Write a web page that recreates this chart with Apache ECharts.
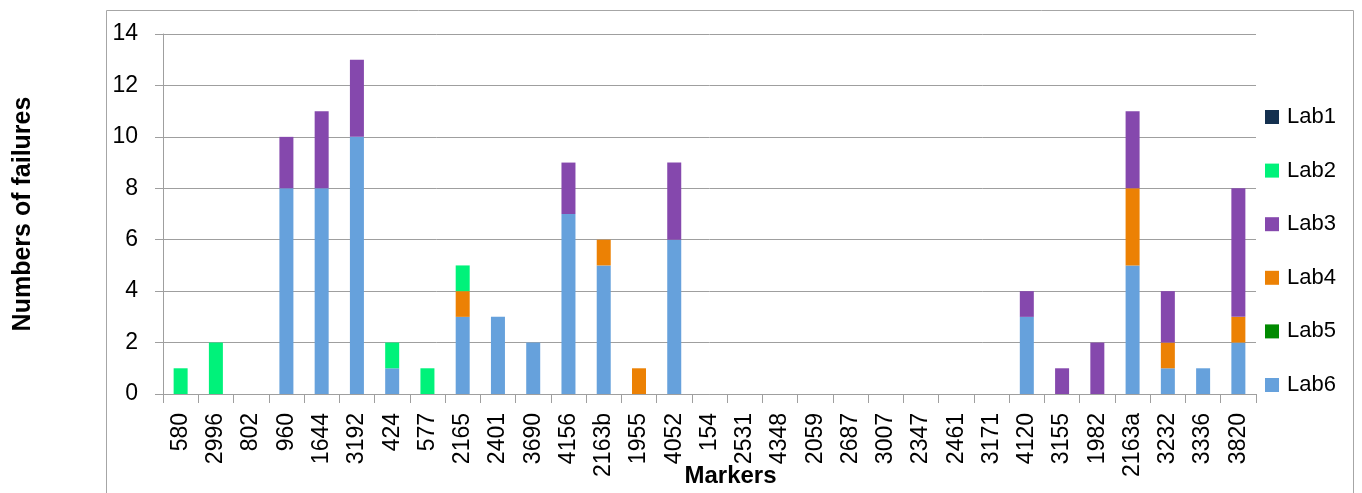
<!DOCTYPE html>
<html>
<head>
<meta charset="utf-8">
<script src="https://cdn.jsdelivr.net/npm/echarts@6/dist/echarts.min.js"></script>
<style>
  html, body { margin: 0; padding: 0; background: #fff; }
  #chart { width: 1362px; height: 493px; }
</style>
</head>
<body>
<div id="chart"></div>
<script>
// Markers on the x axis
const markers = ['580','2996','802','960','1644','3192','424','577','2165','2401','3690','4156','2163b','1955','4052','154','2531','4348','2059','2687','3007','2347','2461','3171','4120','3155','1982','2163a','3232','3336','3820'];

// Failures per lab for each marker
const lab1 = [0,0,0,0,0,0,0,0,0,0,0,0,0,0,0,0,0,0,0,0,0,0,0,0,0,0,0,0,0,0,0];
const lab2 = [1,2,0,0,0,0,1,1,1,0,0,0,0,0,0,0,0,0,0,0,0,0,0,0,0,0,0,0,0,0,0];
const lab3 = [0,0,0,2,3,3,0,0,0,0,0,2,0,0,3,0,0,0,0,0,0,0,0,0,1,1,2,3,2,0,5];
const lab4 = [0,0,0,0,0,0,0,0,1,0,0,0,1,1,0,0,0,0,0,0,0,0,0,0,0,0,0,3,1,0,1];
const lab5 = [0,0,0,0,0,0,0,0,0,0,0,0,0,0,0,0,0,0,0,0,0,0,0,0,0,0,0,0,0,0,0];
const lab6 = [0,0,0,8,8,10,1,0,3,3,2,7,5,0,6,0,0,0,0,0,0,0,0,0,3,0,0,5,1,1,2];

const yTicks = { min: 0, max: 14, interval: 2 };

const FONT = '"Liberation Sans", Arial, sans-serif';
const GRID_GREY = '#9f9f9f';

// Bottom of the stack first, so Lab6 sits on the axis
const stackOrder = [
  { name: 'Lab6', data: lab6, color: '#66a1dc' },
  { name: 'Lab5', data: lab5, color: '#008a00' },
  { name: 'Lab4', data: lab4, color: '#ec8104' },
  { name: 'Lab3', data: lab3, color: '#8548ad' },
  { name: 'Lab2', data: lab2, color: '#00f27a' },
  { name: 'Lab1', data: lab1, color: '#14304f' }
];

const chart = echarts.init(document.getElementById('chart'), null, { renderer: 'canvas' });

chart.setOption({
  animation: false,
  backgroundColor: '#ffffff',
  textStyle: { fontFamily: FONT },
  graphic: [{
    type: 'rect',
    silent: true,
    z: -10,
    shape: { x: 106.5, y: 10.5, width: 1247, height: 520 },
    style: { fill: 'none', stroke: '#a6a6a6', lineWidth: 1 }
  }],
  grid: { left: 163, right: 106, top: 34, bottom: 99, containLabel: false, outerBoundsMode: 'none' },
  legend: {
    orient: 'vertical',
    left: 1265,
    top: 106,
    padding: 0,
    itemWidth: 14,
    itemHeight: 14,
    itemGap: 31.6,
    icon: 'rect',
    data: ['Lab1', 'Lab2', 'Lab3', 'Lab4', 'Lab5', 'Lab6'],
    textStyle: { fontFamily: FONT, fontSize: 22, lineHeight: 22, color: '#000', padding: [0, 0, 0, 3] }
  },
  xAxis: {
    type: 'category',
    data: markers,
    name: 'Markers',
    nameLocation: 'middle',
    nameGap: 70,
    nameMoveOverlap: false,
    nameTextStyle: { fontFamily: FONT, fontSize: 24, fontWeight: 'bold', color: '#000', padding: [0, 0, 0, 42] },
    axisLine: { lineStyle: { color: GRID_GREY, width: 1 } },
    axisTick: { show: true, length: 9, lineStyle: { color: GRID_GREY } },
    axisLabel: { rotate: 90, interval: 0, margin: 19, fontFamily: FONT, fontSize: 23, color: '#000' }
  },
  yAxis: {
    type: 'value',
    min: yTicks.min,
    max: yTicks.max,
    interval: yTicks.interval,
    name: 'Numbers of failures',
    nameLocation: 'middle',
    nameGap: 127,
    nameMoveOverlap: false,
    nameTextStyle: { fontFamily: FONT, fontSize: 25, fontWeight: 'bold', color: '#000', padding: [0, 0, 0, 0] },
    axisLine: { show: true, lineStyle: { color: GRID_GREY, width: 1 } },
    axisTick: { show: true, length: 8, lineStyle: { color: GRID_GREY } },
    axisLabel: { margin: 25, fontFamily: FONT, fontSize: 23, color: '#000' },
    splitLine: { show: true, lineStyle: { color: GRID_GREY, width: 1 } }
  },
  series: stackOrder.map(s => ({
    name: s.name,
    type: 'bar',
    stack: 'labs',
    barWidth: 14,
    data: s.data,
    itemStyle: { color: s.color },
    emphasis: { disabled: true }
  }))
});
</script>
</body>
</html>
